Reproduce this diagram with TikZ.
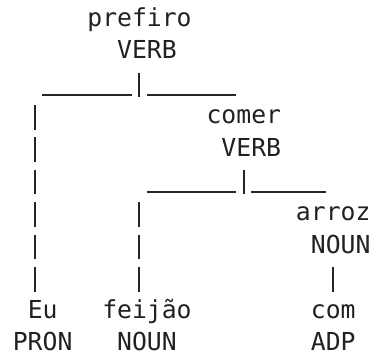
\documentclass[tikz,border=0pt]{standalone}
\usepackage{fontspec}
\newfontfamily\treefont{DejaVu Sans Mono}
\begin{document}
\begin{tikzpicture}[
    x=14.9pt, y=-32.4pt,
    word/.style={anchor=base west, inner sep=0pt, text=black!87, font=\treefont\fontsize{24.75}{29}\selectfont},
    stem/.style={line width=1.8pt, draw=black!85, dash pattern=on 24.6pt off 7.8pt},
    rule/.style={line width=1.8pt, draw=black!85}
]
\useasboundingbox (-0.849,-0.818) rectangle (23.916,10.139);

% words and their tags, one grid cell per character
\node[word] (prefiro) at (5,0) {prefiro};
\node[word] (prefiro-pos) at (7,1) {VERB};
\node[word] (comer) at (13,3) {comer};
\node[word] (comer-pos) at (14,4) {VERB};
\node[word] (arroz) at (19,6) {arroz};
\node[word] (arroz-pos) at (20,7) {NOUN};
\node[word] (eu) at (1,9) {Eu};
\node[word] (feijao) at (6,9) {feijão};
\node[word] (com) at (20,9) {com};
\node[word] (eu-pos) at (0,10) {PRON};
\node[word] (feijao-pos) at (7,10) {NOUN};
\node[word] (com-pos) at (20,10) {ADP};

% branch points
\coordinate (root-top) at (8.5,1.42);
\coordinate (root-bot) at (8.5,2.18);
\coordinate (root-l) at (2,2.12);
\coordinate (root-lm) at (8,2.12);
\coordinate (root-rm) at (9,2.12);
\coordinate (root-r) at (15,2.12);
\coordinate (comer-top) at (15.5,4.42);
\coordinate (comer-bot) at (15.5,5.18);
\coordinate (comer-l) at (9,5.12);
\coordinate (comer-lm) at (15,5.12);
\coordinate (comer-rm) at (16,5.12);
\coordinate (comer-r) at (21,5.12);
\coordinate (eu-top) at (1.5,2.42);
\coordinate (eu-bot) at (1.5,8.18);
\coordinate (feijao-top) at (8.5,5.42);
\coordinate (feijao-bot) at (8.5,8.18);
\coordinate (com-top) at (21.5,7.42);
\coordinate (com-bot) at (21.5,8.18);

\draw[rule] (root-top) -- (root-bot);
\draw[rule] (root-l) -- (root-lm);
\draw[rule] (root-rm) -- (root-r);
\draw[rule] (comer-top) -- (comer-bot);
\draw[rule] (comer-l) -- (comer-lm);
\draw[rule] (comer-rm) -- (comer-r);

\draw[stem] (eu-top) -- (eu-bot);
\draw[stem] (feijao-top) -- (feijao-bot);
\draw[stem] (com-top) -- (com-bot);
\end{tikzpicture}
\end{document}
